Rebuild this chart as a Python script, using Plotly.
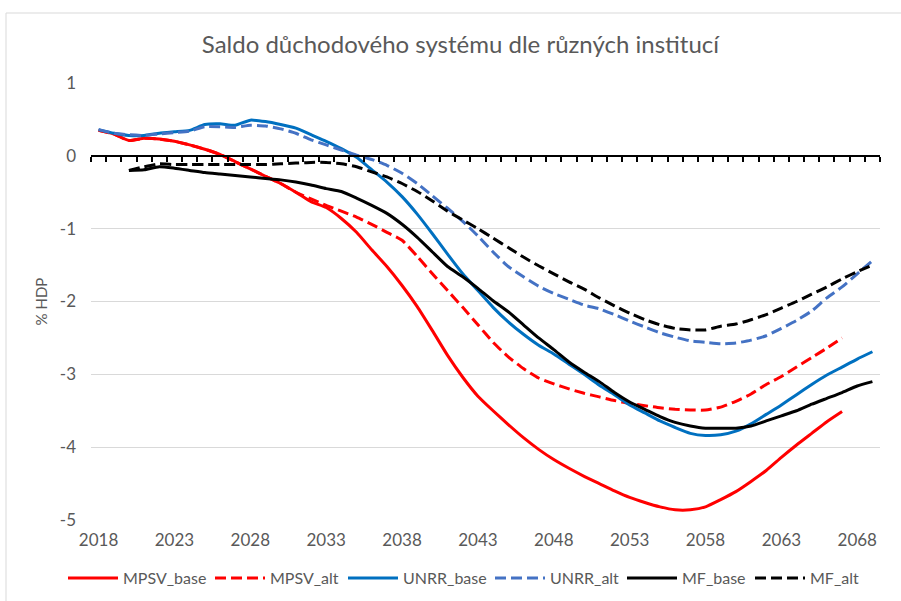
import plotly.graph_objects as go

years = list(range(2018, 2070))
years_mpsv = list(range(2018, 2068))
years_mf = list(range(2020, 2070))

mpsv_base = [0.35, 0.30, 0.21, 0.24, 0.23, 0.20, 0.15, 0.09, 0.02, -0.08,
             -0.18, -0.28, -0.38, -0.50, -0.63, -0.71, -0.86, -1.05, -1.29, -1.52,
             -1.78, -2.07, -2.40, -2.74, -3.04, -3.30, -3.50, -3.69, -3.87, -4.03,
             -4.17, -4.29, -4.40, -4.50, -4.60, -4.69, -4.76, -4.82, -4.86, -4.86,
             -4.82, -4.72, -4.61, -4.47, -4.32, -4.14, -3.97, -3.81, -3.65, -3.51]

mpsv_alt = [0.35, 0.30, 0.21, 0.24, 0.23, 0.20, 0.15, 0.09, 0.02, -0.08,
            -0.18, -0.28, -0.38, -0.50, -0.59, -0.68, -0.76, -0.84, -0.94, -1.05,
            -1.16, -1.38, -1.62, -1.85, -2.08, -2.32, -2.56, -2.76, -2.92, -3.05,
            -3.13, -3.20, -3.26, -3.31, -3.36, -3.40, -3.43, -3.46, -3.48, -3.49,
            -3.49, -3.45, -3.37, -3.27, -3.14, -3.03, -2.90, -2.77, -2.64, -2.50]

unrr_base = [0.36, 0.31, 0.28, 0.28, 0.31, 0.33, 0.35, 0.43, 0.44, 0.42,
             0.49, 0.47, 0.43, 0.38, 0.29, 0.20, 0.10, -0.02, -0.19, -0.36,
             -0.56, -0.80, -1.07, -1.35, -1.62, -1.85, -2.08, -2.28, -2.45, -2.60,
             -2.72, -2.86, -3.00, -3.15, -3.28, -3.42, -3.53, -3.64, -3.73, -3.81,
             -3.84, -3.83, -3.78, -3.68, -3.55, -3.42, -3.28, -3.14, -3.01, -2.90,
             -2.79, -2.69]

unrr_alt = [0.36, 0.31, 0.29, 0.28, 0.30, 0.32, 0.34, 0.40, 0.40, 0.39,
            0.42, 0.41, 0.37, 0.31, 0.22, 0.15, 0.08, 0.01, -0.05, -0.13,
            -0.24, -0.38, -0.55, -0.72, -0.90, -1.10, -1.32, -1.52, -1.66, -1.79,
            -1.89, -1.97, -2.05, -2.10, -2.18, -2.27, -2.35, -2.43, -2.49, -2.54,
            -2.56, -2.58, -2.57, -2.53, -2.47, -2.37, -2.26, -2.13, -1.95, -1.80,
            -1.62, -1.44]

mf_base = [-0.20, -0.19, -0.15, -0.17, -0.20, -0.23, -0.25, -0.27, -0.29, -0.31,
           -0.33, -0.36, -0.40, -0.45, -0.49, -0.58, -0.68, -0.79, -0.94, -1.12,
           -1.32, -1.52, -1.66, -1.82, -1.99, -2.14, -2.32, -2.50, -2.66, -2.83,
           -2.97, -3.10, -3.25, -3.38, -3.48, -3.58, -3.66, -3.71, -3.74, -3.74,
           -3.74, -3.71, -3.64, -3.57, -3.50, -3.41, -3.33, -3.25, -3.16, -3.10]

mf_alt = [-0.20, -0.15, -0.11, -0.12, -0.12, -0.12, -0.12, -0.12, -0.12, -0.12,
          -0.11, -0.10, -0.09, -0.09, -0.11, -0.15, -0.22, -0.29, -0.38, -0.49,
          -0.62, -0.76, -0.88, -1.00, -1.13, -1.26, -1.39, -1.51, -1.62, -1.73,
          -1.83, -1.95, -2.06, -2.16, -2.25, -2.32, -2.37, -2.39, -2.39, -2.34,
          -2.31, -2.25, -2.18, -2.09, -2.00, -1.90, -1.80, -1.69, -1.59, -1.50]

x_ticks = list(range(2018, 2069, 5))
y_ticks = [1, 0, -1, -2, -3, -4, -5]

title = "Saldo důchodového systému dle různých institucí"
y_title = "% HDP"

DASH = "11px,5px"
series = [
    ("MPSV_base", years_mpsv, mpsv_base, "#FF0000", "solid"),
    ("MPSV_alt", years_mpsv, mpsv_alt, "#FF0000", DASH),
    ("UNRR_base", years, unrr_base, "#0070C0", "solid"),
    ("UNRR_alt", years, unrr_alt, "#4472C4", DASH),
    ("MF_base", years_mf, mf_base, "#000000", "solid"),
    ("MF_alt", years_mf, mf_alt, "#000000", DASH),
]

FONT = "Lato"
GRAY = "#595959"

# plot area in pixels (figure coordinates)
L, R, T, B = 91, 880, 83, 520
W, H = 901, 601

# left pixel of each legend entry (one legend per entry)
legend_left_px = [63, 210, 343, 490, 622, 750]

fig = go.Figure()
for i, (name, xs, ys, color, dash) in enumerate(series):
    lg = "legend" if i == 0 else f"legend{i + 1}"
    fig.add_trace(go.Scatter(
        x=xs, y=ys, name=name, mode="lines", legend=lg,
        line=dict(color=color, width=3, dash=dash, shape="spline", smoothing=0.5),
    ))

# dummy trace to carry the zero axis with tick marks
fig.add_trace(go.Scatter(x=years, y=[None] * len(years), xaxis="x2",
                         showlegend=False, hoverinfo="skip", mode="lines"))

xrange = [2017.5, 2069.5]
yrange = [-5, 1]

legend_y = -(578 - B) / (B - T)
legends = {}
for i, px in enumerate(legend_left_px):
    key = "legend" if i == 0 else f"legend{i + 1}"
    legends[key] = dict(
        orientation="h", x=(px - L) / (R - L), xanchor="left",
        y=legend_y, yanchor="middle",
        font=dict(family=FONT, size=16, color=GRAY), itemwidth=50,
        bgcolor="rgba(0,0,0,0)", borderwidth=0,
    )

fig.update_layout(
    width=W, height=H,
    margin=dict(l=L, r=W - R, t=T, b=H - B, autoexpand=False),
    paper_bgcolor="white", plot_bgcolor="white",
    font=dict(family=FONT, color=GRAY, size=16),
    title=dict(text=title, x=0.511, xanchor="center", y=0.925, yanchor="middle",
               font=dict(family=FONT, size=24, color=GRAY)),
    xaxis=dict(range=xrange, tickmode="array", tickvals=x_ticks,
               ticktext=[str(v) for v in x_ticks], showgrid=False, zeroline=False,
               showline=False, ticks="", ticklabelstandoff=8, automargin=False,
               tickfont=dict(family=FONT, size=17, color=GRAY)),
    xaxis2=dict(range=xrange, overlaying="x", anchor="free", automargin=False,
                position=(0 - yrange[0]) / (yrange[1] - yrange[0]), side="bottom",
                showline=True, linecolor="#000000", linewidth=1.5,
                ticks="outside", ticklen=5, tickwidth=1.5, tickcolor="#000000",
                tickmode="linear", tick0=2017.5, dtick=1,
                showticklabels=False, showgrid=False, zeroline=False),
    yaxis=dict(range=yrange, tickmode="array", tickvals=y_ticks,
               ticktext=[str(v) for v in y_ticks], automargin=False,
               showgrid=True, gridcolor="#D9D9D9", gridwidth=1, zeroline=False,
               showline=False, ticks="", ticklabelstandoff=14,
               title=dict(text=y_title, standoff=8, font=dict(family=FONT, size=15, color=GRAY)),
               tickfont=dict(family=FONT, size=17, color=GRAY)),
    showlegend=True,
    shapes=[dict(type="rect", xref="paper", yref="paper",
                 x0=(6 - L) / (R - L), x1=1.2, y0=-0.3, y1=(B - 13) / (B - T),
                 line=dict(color="#D9D9D9", width=1), fillcolor="rgba(0,0,0,0)",
                 layer="below")],
    **legends,
)

fig.write_html("out.html", config={"displayModeBar": False},
               post_script="document.body.style.margin='0';")
